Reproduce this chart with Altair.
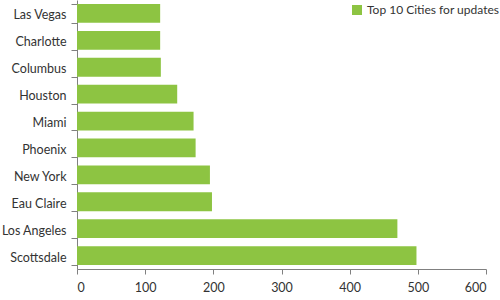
import altair as alt
import pandas as pd

cities = ["Las Vegas", "Charlotte", "Columbus", "Houston", "Miami", "Phoenix",
          "New York", "Eau Claire", "Los Angeles", "Scottsdale"]
values = [122, 122, 123, 147, 171, 174, 195, 198, 470, 498]
series = "Top 10 Cities for updates"

df = pd.DataFrame({"city": cities, "value": values, "series": [series] * len(cities)})

FONT = "Lato"
FS = 12.5

chart = alt.Chart(df).mark_bar(color="#8DC442").encode(
    y=alt.Y("city:N", sort=cities, title=None,
            scale=alt.Scale(paddingInner=0.3, paddingOuter=0.15),
            axis=alt.Axis(tickBand="extent", domainColor="#808080", tickColor="#808080",
                          tickSize=6, labelColor="#333333", labelFontSize=FS, labelFont=FONT,
                          labelPadding=5, labelOffset=1.5, grid=False)),
    x=alt.X("value:Q", title=None,
            scale=alt.Scale(domain=[0, 600], nice=False),
            axis=alt.Axis(values=[0, 100, 200, 300, 400, 500, 600], domainColor="#808080",
                          tickColor="#808080", tickSize=5, labelColor="#333333",
                          labelFontSize=FS, labelFont=FONT, grid=False, labelPadding=7)),
    color=alt.Color("series:N", title=None,
                    scale=alt.Scale(range=["#8DC442"]),
                    legend=alt.Legend(orient="none", legendX=274, legendY=4,
                                      symbolType="square", symbolSize=100,
                                      symbolStrokeWidth=0, labelFontSize=12,
                                      labelFont=FONT, labelColor="#333333",
                                      labelLimit=200, symbolOffset=0, padding=0)),
).properties(
    width=409, height=269,
    autosize=alt.AutoSizeParams(type="none"),
    padding={"left": 77, "top": 0, "right": 14, "bottom": 31},
).configure_view(stroke=None)

chart.save("out.html", embed_options={"renderer": "svg", "actions": False})
